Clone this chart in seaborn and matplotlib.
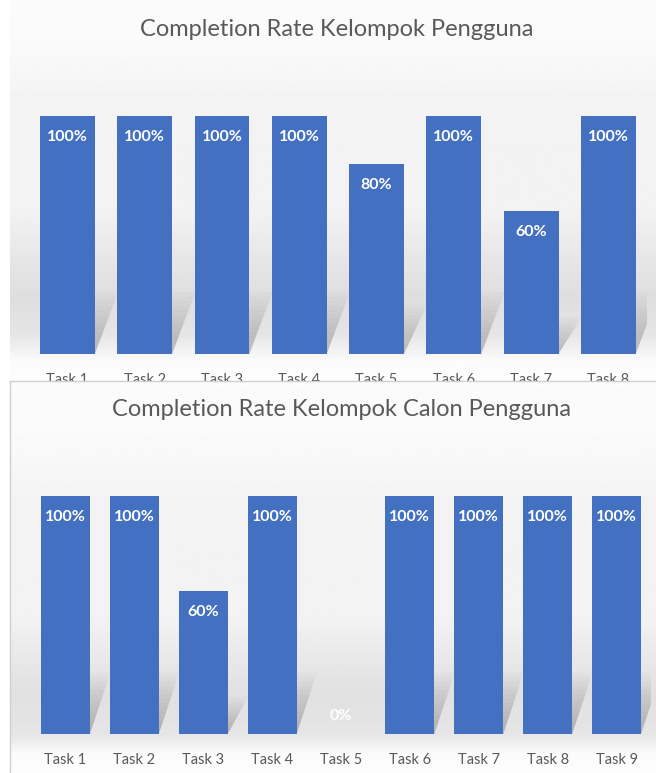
import numpy as np
import pandas as pd
import matplotlib
matplotlib.use("Agg")
import matplotlib.pyplot as plt
from matplotlib.patches import Polygon
import seaborn as sns

# ---- data ----
tasks_top = ["Task 1", "Task 2", "Task 3", "Task 4", "Task 5", "Task 6", "Task 7", "Task 8"]
rate_top = [100, 100, 100, 100, 80, 100, 60, 100]
title_top = "Completion Rate Kelompok Pengguna"

tasks_bottom = ["Task 1", "Task 2", "Task 3", "Task 4", "Task 5", "Task 6", "Task 7", "Task 8", "Task 9"]
rate_bottom = [100, 100, 60, 100, 0, 100, 100, 100, 100]
title_bottom = "Completion Rate Kelompok Calon Pengguna"

sns.set_theme(style="white")
plt.rcParams['font.family'] = ['Lato', 'DejaVu Sans']

W, H = 656, 773
fig = plt.figure(figsize=(W / 100, H / 100), dpi=100)
fig.patch.set_facecolor("white")

BAR = "#4470C2"
TXT = "#595959"


def px_rect(x0, y0, x1, y1):
    """pixel box (top-left origin) -> figure fraction rect"""
    return [x0 / W, 1 - y1 / H, (x1 - x0) / W, (y1 - y0) / H]


def gradient_bg(rect, z, profile, border=False):
    bg = fig.add_axes(rect, zorder=z)
    ys = np.linspace(0, 1, 200)
    vals = np.interp(ys, profile[0], profile[1])
    img = np.repeat(vals[:, None], 2, axis=1)
    bg.imshow(img, cmap="gray", vmin=0, vmax=1, aspect="auto",
              extent=[0, 1, 1, 0], interpolation="bilinear")
    bg.set_xlim(0, 1)
    bg.set_ylim(1, 0)
    bg.set_xticks([])
    bg.set_yticks([])
    for s in bg.spines.values():
        s.set_visible(border)
        s.set_color("#d0d0d0")
        s.set_linewidth(1)
    return bg


def draw_panel(ax, tasks, rates, title, title_xy):
    df = pd.DataFrame({"task": tasks, "rate": rates})
    sns.barplot(data=df, x="task", y="rate", color=BAR, saturation=1,
                width=0.71, ax=ax, errorbar=None, linewidth=0)
    ax.set_facecolor("none")
    ax.set_ylim(0, 100)
    ax.set_xlim(-0.5, len(tasks) - 0.5)
    ax.set_xlabel("")
    ax.set_ylabel("")
    ax.set_yticks([])
    ax.tick_params(axis="x", length=0, pad=14, labelsize=10.5, labelcolor=TXT)
    for s in ax.spines.values():
        s.set_visible(False)
    bars = list(ax.patches)
    n = 14
    for p, v in zip(bars, rates):
        p.set_zorder(3)
        x0 = p.get_x()
        x1 = x0 + p.get_width()
        # soft perspective shadow behind each bar
        for k in range(1, n + 1):
            f = k / n
            hs = 0.26 * v * f
            dx = 0.30 * f
            ax.add_patch(Polygon([(x0 + 0.05, 0), (x1, 0), (x1 + dx, hs), (x0 + 0.05 + dx, hs)],
                                 closed=True, facecolor="black", edgecolor="none",
                                 alpha=0.016, zorder=1))
        x = x0 + p.get_width() / 2
        off = -21 if v > 0 else 18
        ax.annotate(f"{v}%", (x, v), xytext=(0, off), textcoords="offset pixels",
                    ha="center", va="center", color="white", fontsize=11.5,
                    fontweight="bold", zorder=5)
    fig.text(title_xy[0] / W, 1 - title_xy[1] / H, title, ha="center", va="center",
             fontsize=17, color=TXT)


# top panel background
prof1 = ([0, 0.12, 0.25, 0.55, 0.78, 0.88, 0.95, 1.0],
         [0.985, 0.98, 0.955, 0.95, 0.87, 0.9, 0.985, 0.99])
gradient_bg(px_rect(10, 0, 656, 381), 0, prof1)
ax1 = fig.add_axes(px_rect(28.8, 116, 647, 354), zorder=0.5)
draw_panel(ax1, tasks_top, rate_top, title_top, (337, 29))

# bottom panel background (covers top tick labels partly)
prof2 = ([0, 0.15, 0.3, 0.6, 0.8, 0.9, 0.95, 1.0],
         [0.985, 0.98, 0.955, 0.95, 0.88, 0.9, 0.985, 0.99])
gradient_bg(px_rect(10, 381, 657, 774), 1, prof2, border=True)
ax2 = fig.add_axes(px_rect(31, 496, 651, 734), zorder=2)
draw_panel(ax2, tasks_bottom, rate_bottom, title_bottom, (341, 409))

fig.savefig("out.png", dpi=100)
